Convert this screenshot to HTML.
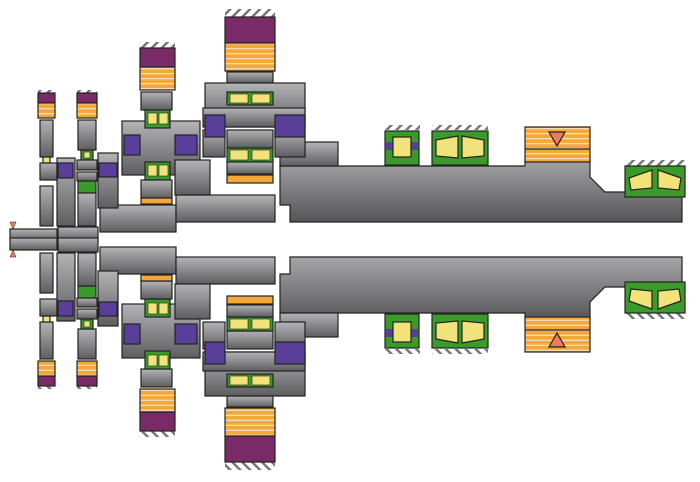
<!DOCTYPE html>
<html><head><meta charset="utf-8"><style>
html,body{margin:0;padding:0;background:#fff;width:700px;height:482px;overflow:hidden}
</style></head><body>
<svg width="700" height="482" viewBox="0 0 700 482" xmlns="http://www.w3.org/2000/svg">
<defs>
<linearGradient id="g" x1="0" y1="0" x2="0" y2="1"><stop offset="0" stop-color="#b4b4b6"/><stop offset="1" stop-color="#5e5e60"/></linearGradient>
<linearGradient id="gs" x1="0" y1="0" x2="0" y2="1"><stop offset="0" stop-color="#a6a6a8"/><stop offset="1" stop-color="#555557"/></linearGradient>
<linearGradient id="g2" x1="0" y1="1" x2="0" y2="0"><stop offset="0" stop-color="#b4b4b6"/><stop offset="1" stop-color="#5e5e60"/></linearGradient>
<linearGradient id="gs2" x1="0" y1="1" x2="0" y2="0"><stop offset="0" stop-color="#a6a6a8"/><stop offset="1" stop-color="#555557"/></linearGradient>
<pattern id="or" width="6" height="5" patternUnits="userSpaceOnUse"><rect width="6" height="5" fill="#f4a83a"/><rect y="3" width="6" height="1.3" fill="#f3dcb5"/></pattern>
<pattern id="ht" width="7" height="7" patternUnits="userSpaceOnUse" patternTransform="rotate(45)"><rect width="2.5" height="7" fill="#777"/></pattern>
<style>.g{fill:var(--g,url(#g))}.gs{fill:var(--gs,url(#gs))}</style>
<g id="half" stroke="#222" stroke-width="1.2">
  <path class="gs" d="M280 166 H525 V158 H590 V177 L605 192 H682 V222 H290 V205 H280 Z"/>
  <rect class="g" x="280" y="142" width="58" height="24"/>
  <rect class="g" x="10" y="229" width="47" height="12"/>
  <rect class="g" x="58" y="227" width="40" height="14"/>
  <rect class="g" x="100" y="205" width="76" height="27"/>
  <rect class="g" x="176" y="195" width="99" height="27"/>
  <!-- gear 1 -->
  <rect x="38" y="90" width="17" height="3" fill="url(#ht)" stroke="none"/>
  <rect x="38" y="93" width="17" height="10" fill="#7b2a68"/>
  <rect x="38" y="103" width="17" height="15" fill="url(#or)"/>
  <rect class="g" x="40" y="120" width="13" height="37"/>
  <rect x="43" y="157" width="7" height="6" fill="#f2e27a"/>
  <rect class="g" x="40" y="163" width="17" height="17"/>
  <rect class="g" x="40" y="186" width="13" height="40"/>
  <rect class="g" x="57" y="158" width="18" height="68"/>
  <rect x="58" y="163" width="15" height="15" fill="#5a3f9a"/>
  <!-- gear 2 -->
  <rect x="77" y="90" width="20" height="3" fill="url(#ht)" stroke="none"/>
  <rect x="77" y="93" width="20" height="10" fill="#7b2a68"/>
  <rect x="77" y="103" width="20" height="15" fill="url(#or)"/>
  <rect class="g" x="78" y="120" width="18" height="30"/>
  <rect x="81" y="150" width="12" height="10" fill="#3a9a2a"/>
  <rect x="84" y="152" width="6" height="6" fill="#f2e27a" stroke-width="0.6"/>
  <rect class="g" x="77" y="160" width="20" height="10"/>
  <rect class="g" x="77" y="172" width="20" height="9"/>
  <rect x="78" y="181" width="18" height="12" fill="#3a9a2a"/>
  <rect class="g" x="78" y="193" width="18" height="33"/>
  <rect class="g" x="98" y="153" width="20" height="55"/>
  <rect x="99" y="163" width="18" height="14" fill="#5a3f9a"/>
  <!-- gear 3 -->
  <rect x="139" y="42" width="36" height="6" fill="url(#ht)" stroke="none"/>
  <rect x="140" y="48" width="35" height="19" fill="#7b2a68"/>
  <rect x="140" y="67" width="35" height="23" fill="url(#or)"/>
  <rect class="g" x="141" y="92" width="31" height="18"/>
  <rect class="g" x="122" y="121" width="78" height="54"/>
  <rect x="124" y="135" width="16" height="20" fill="#5a3f9a"/>
  <rect x="175" y="135" width="22" height="20" fill="#5a3f9a"/>
  <rect class="g" x="175" y="160" width="35" height="35"/>
  <rect x="145" y="110" width="25" height="18" fill="#3a9a2a"/>
  <rect x="148" y="113" width="9" height="11" fill="#f2e27a" stroke-width="0.6"/>
  <rect x="159" y="113" width="9" height="11" fill="#f2e27a" stroke-width="0.6"/>
  <rect x="145" y="162" width="25" height="18" fill="#3a9a2a"/>
  <rect x="148" y="165" width="9" height="11" fill="#f2e27a" stroke-width="0.6"/>
  <rect x="159" y="165" width="9" height="11" fill="#f2e27a" stroke-width="0.6"/>
  <rect class="g" x="141" y="180" width="31" height="18"/>
  <rect x="141" y="198" width="31" height="6" fill="#f4a83a"/>
  <!-- gear 4 -->
  <rect x="225" y="9" width="50" height="8" fill="url(#ht)" stroke="none"/>
  <rect x="225" y="17" width="50" height="26" fill="#7b2a68"/>
  <rect x="225" y="43" width="50" height="28" fill="url(#or)"/>
  <rect class="g" x="227" y="72" width="46" height="11"/>
  <rect class="g" x="205" y="83" width="100" height="44"/>
  <rect class="g" x="203" y="108" width="102" height="19"/>
  <rect class="g" x="203" y="130" width="22" height="27"/>
  <rect class="g" x="275" y="130" width="30" height="27"/>
  <rect x="205" y="115" width="20" height="22" fill="#5a3f9a"/>
  <rect x="275" y="115" width="30" height="22" fill="#5a3f9a"/>
  <rect class="g" x="227" y="130" width="46" height="18"/>
  <rect x="227" y="92" width="46" height="13" fill="#3a9a2a"/>
  <rect x="230" y="94" width="18" height="9" fill="#f2e27a" stroke-width="0.6"/>
  <rect x="252" y="94" width="18" height="9" fill="#f2e27a" stroke-width="0.6"/>
  <rect x="227" y="148" width="46" height="14" fill="#3a9a2a"/>
  <rect x="230" y="150" width="18" height="10" fill="#f2e27a" stroke-width="0.6"/>
  <rect x="252" y="150" width="18" height="10" fill="#f2e27a" stroke-width="0.6"/>
  <rect class="g" x="227" y="162" width="46" height="12"/>
  <rect x="227" y="175" width="46" height="8" fill="#f4a83a"/>
  <!-- right bearings -->
  <rect x="385" y="125" width="35" height="5" fill="url(#ht)" stroke="none"/>
  <rect x="385" y="131" width="34" height="34" fill="#3a9a2a"/>
  <rect x="386" y="142" width="32" height="8" fill="#5a3f9a" stroke="none"/>
  <rect x="393" y="137" width="18" height="20" fill="#f2e27a"/>
  <rect x="432" y="125" width="56" height="5" fill="url(#ht)" stroke="none"/>
  <rect x="432" y="131" width="56" height="34" fill="#3a9a2a"/>
  <path d="M436 140 L458 136 L458 158 L436 156 Z M484 140 L462 136 L462 158 L484 156 Z" fill="#f2e27a"/>
  <rect x="525" y="127" width="65" height="35" fill="url(#or)"/>
  <line x1="525" y1="149" x2="590" y2="149"/>
  <path d="M549 132 H565 L557 146 Z" fill="#ef7c55"/>
  <rect x="625" y="160" width="60" height="6" fill="url(#ht)" stroke="none"/>
  <rect x="625" y="166" width="60" height="31" fill="#3a9a2a"/>
  <path d="M629 178 L652 170 L652 188 L631 190 Z M681 178 L658 170 L658 188 L679 190 Z" fill="#f2e27a"/>
  <path d="M10 222 L16 222 L13 229 Z" fill="#ef7c55" stroke-width="0.5"/>
</g>
</defs>
<use href="#half"/>
<use href="#half" transform="translate(0,479) scale(1,-1)" style="--g:url(#g2);--gs:url(#gs2)"/>
</svg>
</body></html>
